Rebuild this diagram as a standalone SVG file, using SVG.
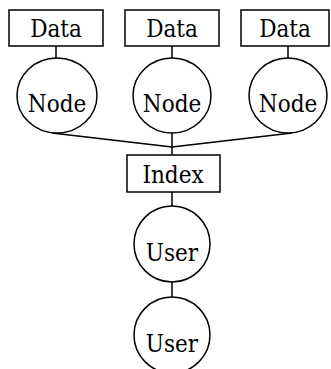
<svg xmlns="http://www.w3.org/2000/svg" width="331" height="369" viewBox="0 0 331 369">
  <style>
    .box { fill: #fff; stroke: #000; stroke-width: 1.5; }
    .circ { fill: #fff; stroke: #000; stroke-width: 1.5; }
    .edge { fill: none; stroke: #000; stroke-width: 1.5; }
    .lbl { font-family: "DejaVu Serif Condensed", "DejaVu Serif", serif; font-stretch: condensed; font-size: 24px; fill: #000; text-anchor: middle; }
  </style>
  <rect width="331" height="369" fill="#fff"/>
  <g id="connectors">
    <line class="edge" x1="56" y1="46" x2="56" y2="58"/>
    <line class="edge" x1="172" y1="46" x2="172" y2="58"/>
    <line class="edge" x1="288" y1="46" x2="288" y2="58"/>
    <line class="edge" x1="52" y1="133" x2="172" y2="147"/>
    <line class="edge" x1="292" y1="133" x2="172" y2="147"/>
    <line class="edge" x1="172" y1="133" x2="172" y2="155"/>
    <line class="edge" x1="172" y1="192" x2="172" y2="206"/>
    <line class="edge" x1="172" y1="282" x2="172" y2="297"/>
  </g>
  <g id="data1"><rect class="box" x="9" y="10" width="94" height="36"/><text class="lbl" x="56" y="37">Data</text></g>
  <g id="data2"><rect class="box" x="125" y="10" width="94" height="36"/><text class="lbl" x="172" y="37">Data</text></g>
  <g id="data3"><rect class="box" x="241" y="10" width="88" height="36"/><text class="lbl" x="285" y="37">Data</text></g>
  <g id="node1"><ellipse class="circ" cx="57" cy="95.5" rx="40" ry="37.5"/><text class="lbl" x="57" y="112">Node</text></g>
  <g id="node2"><ellipse class="circ" cx="172" cy="95.5" rx="39" ry="37.5"/><text class="lbl" x="172" y="112">Node</text></g>
  <g id="node3"><ellipse class="circ" cx="288" cy="95.5" rx="39" ry="37.5"/><text class="lbl" x="288" y="112">Node</text></g>
  <g id="index"><rect class="box" x="127" y="155" width="93" height="37"/><text class="lbl" x="173" y="183">Index</text></g>
  <g id="user1"><ellipse class="circ" cx="172" cy="244" rx="38" ry="38"/><text class="lbl" x="172" y="261">User</text></g>
  <g id="user2"><ellipse class="circ" cx="172" cy="335" rx="38" ry="38"/><text class="lbl" x="172" y="352">User</text></g>
</svg>
